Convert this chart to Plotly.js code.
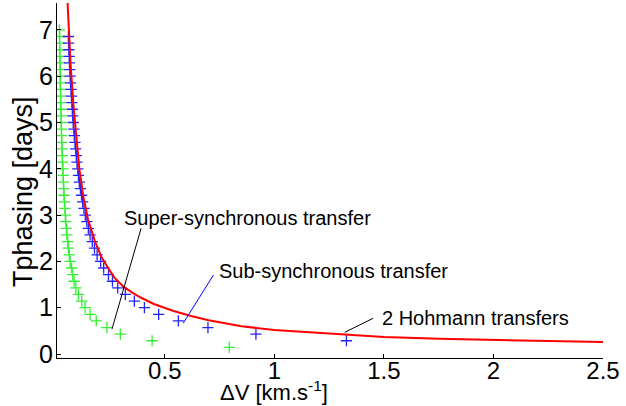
<!DOCTYPE html>
<html>
<head>
<meta charset="utf-8">
<script src="https://cdn.plot.ly/plotly-3.0.1.min.js"></script>
<style>
html,body{margin:0;padding:0;background:#fff;}
#chart{width:626px;height:406px;}
</style>
</head>
<body>
<div id="chart"></div>
<script>
// Hohmann curve (red line)
const hohmannDV = [0.052, 0.060, 0.070, 0.083, 0.095, 0.110, 0.128, 0.150, 0.180, 0.210, 0.240, 0.270, 0.310, 0.350, 0.390, 0.450, 0.540, 0.620, 0.700, 0.850, 1.000, 1.250, 1.500, 1.750, 2.000, 2.250, 2.500];
const hohmannT  = [8.0, 7.2, 6.25, 5.38, 4.7, 4.0, 3.4, 2.9, 2.45, 2.1, 1.87, 1.65, 1.46, 1.33, 1.22, 1.08, 0.93, 0.82, 0.73, 0.60, 0.52, 0.44, 0.37, 0.33, 0.30, 0.28, 0.26];

// Sub-synchronous transfer (blue +)
const subT  = [0.286, 0.429, 0.571, 0.714, 0.857, 1.000, 1.143, 1.286, 1.429, 1.571, 1.714, 1.857, 2.000, 2.143, 2.286, 2.429, 2.571, 2.714, 2.857, 3.000, 3.143, 3.286, 3.429, 3.571, 3.714, 3.857, 4.000, 4.143, 4.286, 4.429, 4.571, 4.714, 4.857, 5.000, 5.143, 5.286, 5.429, 5.571, 5.714, 5.857, 6.000, 6.143, 6.286, 6.429, 6.571, 6.714, 6.857];
const subDV = [1.329, 0.916, 0.697, 0.562, 0.472, 0.407, 0.361, 0.320, 0.285, 0.261, 0.243, 0.221, 0.207, 0.191, 0.179, 0.169, 0.159, 0.151, 0.144, 0.137, 0.131, 0.125, 0.120, 0.115, 0.110, 0.106, 0.103, 0.099, 0.096, 0.093, 0.090, 0.087, 0.085, 0.082, 0.080, 0.078, 0.076, 0.074, 0.072, 0.070, 0.068, 0.067, 0.065, 0.064, 0.062, 0.061, 0.060];

// Super-synchronous transfer (green +)
const superT  = [0.143, 0.286, 0.429, 0.571, 0.714, 0.857, 1.000, 1.143, 1.286, 1.429, 1.571, 1.714, 1.857, 2.000, 2.143, 2.286, 2.429, 2.571, 2.714, 2.857, 3.000, 3.143, 3.286, 3.429, 3.571, 3.714, 3.857, 4.000, 4.143, 4.286, 4.429, 4.571, 4.714, 4.857, 5.000, 5.143, 5.286, 5.429, 5.571, 5.714, 5.857, 6.000, 6.143, 6.286, 6.429, 6.571, 6.714, 6.857, 7.000];
const superDV = [0.794, 0.442, 0.297, 0.236, 0.187, 0.159, 0.136, 0.121, 0.106, 0.094, 0.086, 0.080, 0.075, 0.068, 0.064, 0.060, 0.057, 0.053, 0.051, 0.048, 0.046, 0.044, 0.042, 0.040, 0.039, 0.037, 0.036, 0.035, 0.033, 0.032, 0.031, 0.030, 0.029, 0.028, 0.027, 0.027, 0.026, 0.025, 0.025, 0.024, 0.023, 0.023, 0.022, 0.022, 0.021, 0.021, 0.020, 0.020, 0.019];

const xTickVals = [0.5, 1, 1.5, 2, 2.5];
const xTickText = ["0.5", "1", "1.5", "2", "2.5"];
const yTickVals = [0, 1, 2, 3, 4, 5, 6, 7];

const FONT = "Liberation Sans, Arial, Helvetica, sans-serif";

const traces = [
  {x: superDV, y: superT, type: 'scatter', mode: 'markers',
   marker: {symbol: 'cross-thin', size: 8, line: {color: '#33ee33', width: 1.3}}, cliponaxis: true},
  {x: subDV, y: subT, type: 'scatter', mode: 'markers',
   marker: {symbol: 'cross-thin', size: 8, line: {color: '#2222ff', width: 1.3}}, cliponaxis: true},
  {x: hohmannDV, y: hohmannT, type: 'scatter', mode: 'lines',
   line: {color: '#ff0000', width: 2}, cliponaxis: true}
];

const layout = {
  width: 626, height: 406,
  margin: {l: 57, r: 23, t: 3, b: 48},
  paper_bgcolor: '#fff', plot_bgcolor: '#fff',
  showlegend: false,
  font: {family: FONT, color: '#000', size: 22},
  xaxis: {
    range: [0.008, 2.5], tickvals: xTickVals, ticktext: xTickText,
    ticks: 'inside', ticklen: 4, tickcolor: '#000', tickwidth: 1,
    showline: true, linecolor: '#000', linewidth: 1, mirror: false,
    showgrid: false, zeroline: false,
    tickfont: {size: 24, family: FONT},
    ticklabelstandoff: -9
  },
  yaxis: {
    range: [-0.086, 7.58], tickvals: yTickVals,
    ticks: 'inside', ticklen: 4, tickcolor: '#000', tickwidth: 1,
    showline: true, linecolor: '#000', linewidth: 1, mirror: false,
    showgrid: false, zeroline: false,
    tickfont: {size: 25, family: FONT},
    ticklabelstandoff: -2
  },
  shapes: [
    {type: 'line', xref: 'x', yref: 'y', x0: 0.392, y0: 2.715, x1: 0.259, y1: 0.54, line: {color: '#000', width: 1}},
    {type: 'line', xref: 'x', yref: 'y', x0: 0.722, y0: 1.706, x1: 0.584, y1: 0.663, line: {color: '#0000ff', width: 1}},
    {type: 'line', xref: 'x', yref: 'y', x0: 1.451, y0: 0.771, x1: 1.321, y1: 0.469, line: {color: '#000', width: 1}}
  ],
  annotations: [
    {text: 'Super-synchronous transfer', xref: 'x', yref: 'y', x: 0.305, y: 2.94, xanchor: 'left', yanchor: 'middle', showarrow: false, font: {size: 20, family: FONT, color: '#000'}},
    {text: 'Sub-synchronous transfer', xref: 'x', yref: 'y', x: 0.740, y: 1.80, xanchor: 'left', yanchor: 'middle', showarrow: false, font: {size: 20, family: FONT, color: '#000'}},
    {text: '2 Hohmann transfers', xref: 'x', yref: 'y', x: 1.483, y: 0.77, xanchor: 'left', yanchor: 'middle', showarrow: false, font: {size: 20, family: FONT, color: '#000'}},
    {text: 'ΔV [km.s<sup>-1</sup>]', xref: 'paper', yref: 'paper', x: 0.397, y: -0.094, xanchor: 'center', yanchor: 'middle', showarrow: false, font: {size: 22, family: FONT, color: '#000'}},
    {text: 'Tphasing [days]', xref: 'paper', yref: 'paper', x: -0.062, y: 0.468, xanchor: 'center', yanchor: 'middle', textangle: -90, showarrow: false, font: {size: 27, family: FONT, color: '#000'}}
  ]
};

Plotly.newPlot('chart', traces, layout, {displayModeBar: false, staticPlot: true});
</script>
</body>
</html>
